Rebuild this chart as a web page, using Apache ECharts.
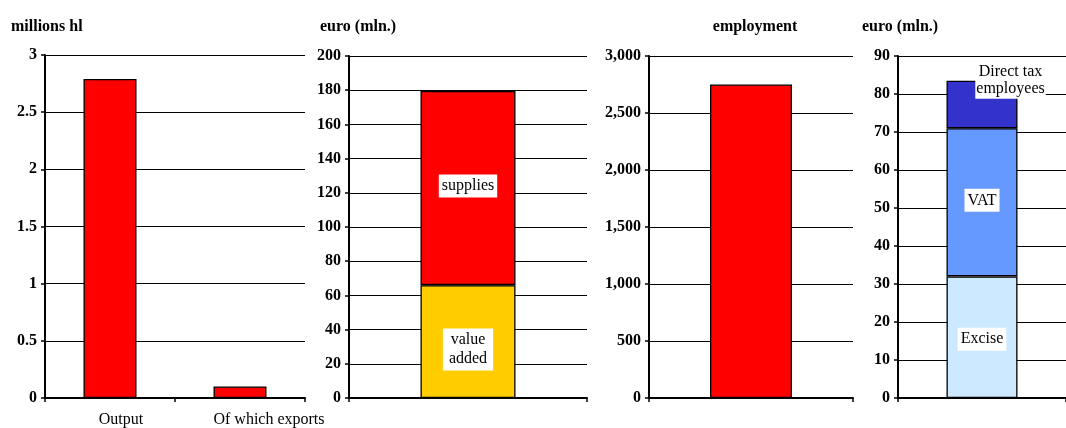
<!DOCTYPE html>
<html><head><meta charset="utf-8">
<script src="https://cdn.jsdelivr.net/npm/echarts@6/dist/echarts.min.js"></script>
<style>html,body{margin:0;padding:0;background:#fff}#c{width:1066px;height:428px}</style>
</head><body><div id="c"></div>
<script>
// ---- data ----
const outputCats = ['Output', 'Of which exports'];
const outputVals = [2.79, 0.1];            // millions hl
const valueAdded = [66];                   // euro (mln.)
const supplies = [113.5];                  // euro (mln.)
const employment = [2750];                 // persons
const excise = [32];                       // euro (mln.)
const vat = [39];
const directTax = [12.5];
const titles = ['millions hl', 'euro (mln.)', 'employment', 'euro (mln.)'];

const FONT = '"Liberation Serif", "DejaVu Serif", serif';
const chart = echarts.init(document.getElementById('c'), null, {renderer: 'canvas'});

const grids = [
  {left: 45, top: 55, width: 260, height: 344},
  {left: 349, top: 56, width: 238, height: 343},
  {left: 649, top: 56, width: 204, height: 343},
  {left: 898, top: 56, width: 179, height: 343}
];
const yRanges = [[0, 3, 0.5], [0, 200, 20], [0, 3000, 500], [0, 90, 10]];

function yAxis(i) {
  return {
    type: 'value', gridIndex: i, min: yRanges[i][0], max: yRanges[i][1], interval: yRanges[i][2],
    axisLine: {show: true, lineStyle: {color: '#000', width: 2}},
    axisTick: {show: true, length: 4, lineStyle: {color: '#000', width: 1.5}},
    splitLine: {show: true, lineStyle: {color: '#000', width: 1}},
    axisLabel: {
      color: '#000', fontFamily: FONT, fontWeight: 'bold', fontSize: 16, margin: 8,
      formatter: v => i === 2 ? v.toLocaleString('en-US') : String(v)
    }
  };
}
function xAxis(i, data) {
  return {
    type: 'category', gridIndex: i, data: data,
    axisLine: {show: true, lineStyle: {color: '#000', width: 2}},
    axisTick: {show: true, length: 4, alignWithLabel: false, lineStyle: {color: '#000', width: 1.5}},
    axisLabel: {
      color: '#000', fontFamily: FONT, fontSize: 16, margin: 14, interval: 0,
      formatter: (v, idx) => '{c' + idx + '|' + v + '}',
      rich: {c0: {fontFamily: FONT, fontSize: 16, color: '#000', padding: [0, 0, 0, 22]},
             c1: {fontFamily: FONT, fontSize: 16, color: '#000', padding: [0, 0, 0, 58]}}
    },
    splitLine: {show: false}
  };
}
const lab = (pos, extra) => Object.assign({
  show: true, position: pos, color: '#000', fontFamily: FONT, fontSize: 16,
  backgroundColor: '#fff', padding: [2, 3], lineHeight: 19
}, extra || {});
const border = {borderColor: '#000', borderWidth: 1.3};

chart.setOption({
  animation: false,
  title: [
    {text: titles[0], left: 6, top: 14},
    {text: titles[1], left: 315, top: 14},
    {text: titles[2], left: 750, textAlign: 'center', top: 14},
    {text: titles[3], left: 857, top: 14}
  ].map(t => Object.assign(t, {textStyle: {fontFamily: FONT, fontWeight: 'bold', fontSize: 16, color: '#000'}})),
  grid: grids,
  xAxis: [xAxis(0, outputCats), xAxis(1, ['']), xAxis(2, ['']), xAxis(3, [''])],
  yAxis: [yAxis(0), yAxis(1), yAxis(2), yAxis(3)],
  series: [
    {type: 'bar', name: 'output', xAxisIndex: 0, yAxisIndex: 0, data: outputVals, barWidth: 53,
     itemStyle: Object.assign({color: '#ff0000'}, border)},
    {type: 'bar', name: 'value added', xAxisIndex: 1, yAxisIndex: 1, stack: 'v', data: valueAdded, barWidth: 95,
     itemStyle: Object.assign({color: '#ffcc00'}, border), label: lab('inside', {formatter: 'value\nadded', offset: [0, 8], padding: [2, 6]})},
    {type: 'bar', name: 'supplies', xAxisIndex: 1, yAxisIndex: 1, stack: 'v', data: supplies, barWidth: 95,
     itemStyle: Object.assign({color: '#ff0000'}, border), label: lab('inside', {formatter: 'supplies', offset: [0, -2]})},
    {type: 'bar', name: 'employment', xAxisIndex: 2, yAxisIndex: 2, data: employment, barWidth: 82,
     itemStyle: Object.assign({color: '#ff0000'}, border)},
    {type: 'bar', name: 'Excise', xAxisIndex: 3, yAxisIndex: 3, stack: 't', data: excise, barWidth: 71,
     itemStyle: Object.assign({color: '#cce9ff'}, border), label: lab('inside', {formatter: 'Excise', offset: [0, 2]})},
    {type: 'bar', name: 'VAT', xAxisIndex: 3, yAxisIndex: 3, stack: 't', data: vat, barWidth: 71,
     itemStyle: Object.assign({color: '#6699ff'}, border), label: lab('inside', {formatter: 'VAT', offset: [0, -2]})},
    {type: 'bar', name: 'Direct tax employees', xAxisIndex: 3, yAxisIndex: 3, stack: 't', data: directTax, barWidth: 71,
     itemStyle: Object.assign({color: '#3333cc'}, border),
     label: lab([64, -18], {formatter: 'Direct tax\nemployees', align: 'center', verticalAlign: 'top', padding: [1, 1], lineHeight: 17})}
  ]
});
</script></body></html>
